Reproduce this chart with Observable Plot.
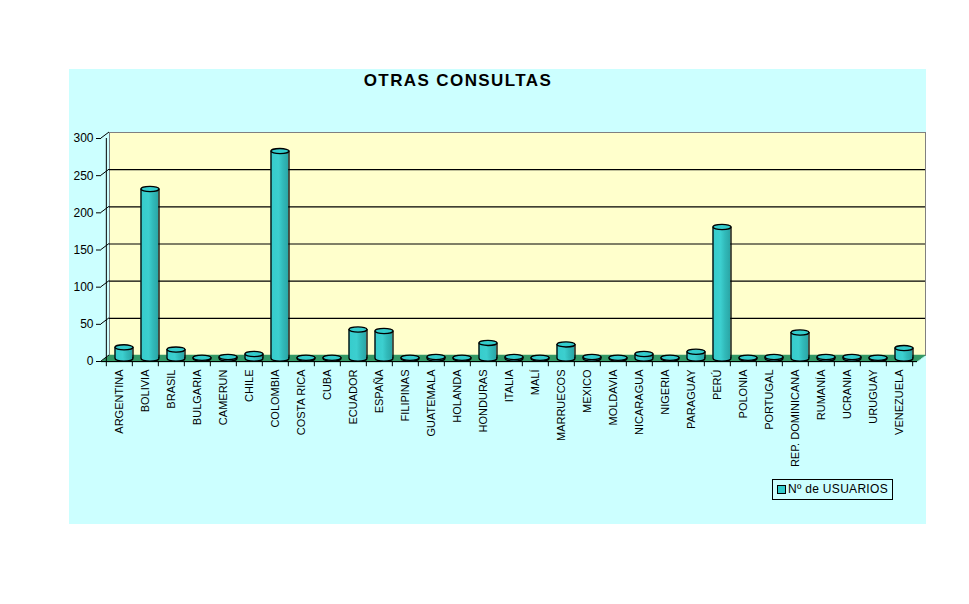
<!DOCTYPE html>
<html>
<head>
<meta charset="utf-8">
<script src="https://cdn.jsdelivr.net/npm/d3@7"></script>
<script src="https://cdn.jsdelivr.net/npm/@observablehq/plot@0.6"></script>
<style>
  html, body { margin: 0; padding: 0; background: #ffffff; }
  #page { position: relative; width: 969px; height: 604px; overflow: hidden; background: #ffffff; font-family: "Liberation Sans", Arial, sans-serif; }
  #panel { position: absolute; left: 69px; top: 69px; width: 857px; height: 455px; background: #CCFFFF; }
  #title { position: absolute; left: 258px; width: 400px; top: 70px; text-align: center; font-weight: bold; font-size: 17px; letter-spacing: 1.4px; line-height: 22px; color: #000; }
  #chart { position: absolute; left: 0; top: 0; }
  #legend { position: absolute; left: 772px; top: 479px; width: 119px; height: 19px; border: 1px solid #000; background: #CCFFFF; font-size: 12px; line-height: 19px; color: #000; }
  #legend .sw { position: absolute; left: 4px; top: 5px; width: 7px; height: 7px; background: #33CCCC; border: 1px solid #000; }
  #legend .lb { position: absolute; left: 15px; top: 0; white-space: nowrap; letter-spacing: 0.3px; }
</style>
</head>
<body>
<div id="page">
  <div id="panel"></div>
  <div id="title">OTRAS CONSULTAS</div>
  <div id="chart"></div>
  <div id="legend"><div class="sw"></div><div class="lb">Nº de USUARIOS</div></div>
</div>
<script>
const countries = ["ARGENTINA","BOLIVIA","BRASIL","BULGARIA","CAMERUN","CHILE","COLOMBIA","COSTA RICA","CUBA","ECUADOR","ESPAÑA","FILIPINAS","GUATEMALA","HOLANDA","HONDURAS","ITALIA","MALÍ","MARRUECOS","MEXICO","MOLDAVIA","NICARAGUA","NIGERIA","PARAGUAY","PERÚ","POLONIA","PORTUGAL","REP. DOMINICANA","RUMANÍA","UCRANIA","URUGUAY","VENEZUELA"];
const usuarios = [15,228,12,1,2,6,279,1,1,39,37,1,2,1,21,2,1,19,2,1,6,1,9,177,1,2,35,2,2,1,14];
const yTicks = [0,50,100,150,200,250,300];
const gridValues = [50,100,150,200,250];

const data = countries.map((c, i) => ({country: c, value: usuarios[i]}));

const W = 969, H = 604, mL = 101, mR = 52, mT = 138, mB = 243;
const bw = (W - mL - mR) / countries.length;
const barW = 18;
const inset = (bw - barW) / 2;
const bdx = 4.5, bdy = -3;   // bar depth offset
const wdx = 8, wdy = -6;     // back wall offset

const ellipse = {
  draw(ctx) {
    const rx = barW / 2, ry = 2.6, k = 0.5523;
    ctx.moveTo(rx, 0);
    ctx.bezierCurveTo(rx, ry * k, rx * k, ry, 0, ry);
    ctx.bezierCurveTo(-rx * k, ry, -rx, ry * k, -rx, 0);
    ctx.bezierCurveTo(-rx, -ry * k, -rx * k, -ry, 0, -ry);
    ctx.bezierCurveTo(rx * k, -ry, rx, -ry * k, rx, 0);
    ctx.closePath();
  }
};

const floorRows = d3.range(0, 7).map(i => Plot.ruleY([0], {stroke: "#339966", strokeWidth: 1.6, dx: i * wdx / 6, dy: i * wdy / 6}));

const chart = Plot.plot({
  width: W, height: H,
  marginLeft: mL, marginRight: mR, marginTop: mT, marginBottom: mB,
  style: "background: transparent; overflow: visible; font-family: 'Liberation Sans', Arial, sans-serif; color: #000;",
  x: {domain: countries, padding: 0, label: null},
  y: {domain: [0, 300], label: null},
  marks: [
    // back wall
    Plot.frame({fill: "#FFFFCC", stroke: "#808080", dx: wdx, dy: wdy}),
    Plot.ruleY(gridValues, {stroke: "#000", strokeWidth: 1.2, dx: wdx, dy: wdy}),
    // floor
    ...floorRows,
    // front axes
    Plot.ruleY([0], {stroke: "#000"}),
    Plot.ruleX([countries[0]], {x: d => d, y1: 0, y2: 300, dx: -bw / 2, stroke: "#000"}),
    // category ticks at band boundaries
    Plot.ruleX(countries, {x: d => d, y1: 0, y2: -7, dx: -bw / 2, stroke: "#000"}),
    Plot.ruleX([countries[countries.length - 1]], {x: d => d, y1: 0, y2: -7, dx: bw / 2, stroke: "#000"}),
    Plot.axisY({ticks: yTicks, tickSize: 5, tickPadding: 3, fontSize: 12, label: null}),
    Plot.axisX({tickSize: 0, tickPadding: 8, tickRotate: -90, fontSize: 11, label: null}),
    // cylinders
    Plot.dot(data, {x: "country", y: 0, dx: bdx, dy: bdy, r: 3, symbol: ellipse, fill: "url(#cyl)", stroke: "#000", strokeWidth: 1.3}),
    Plot.barY(data, {x: "country", y: "value", fill: "url(#cyl)", insetLeft: inset, insetRight: inset, dx: bdx, dy: bdy}),
    Plot.ruleX(data, {x: "country", y1: 0, y2: "value", dx: bdx - barW / 2, dy: bdy, stroke: "#000", strokeWidth: 1.3}),
    Plot.ruleX(data, {x: "country", y1: 0, y2: "value", dx: bdx + barW / 2, dy: bdy, stroke: "#000", strokeWidth: 1.3}),
    Plot.dot(data, {x: "country", y: "value", dx: bdx, dy: bdy, r: 3, symbol: ellipse, fill: "#33CCCC", stroke: "#000", strokeWidth: 1.3})
  ]
});

// gradient for cylinder bodies
const svg = d3.select(chart);
const defs = svg.insert("defs", ":first-child");
const g = defs.append("linearGradient").attr("id", "cyl").attr("x1", "0").attr("x2", "1").attr("y1", "0").attr("y2", "0");
g.append("stop").attr("offset", "0").attr("stop-color", "#36CCCC");
g.append("stop").attr("offset", "0.45").attr("stop-color", "#3CCFCF");
g.append("stop").attr("offset", "0.7").attr("stop-color", "#31B9B9");
g.append("stop").attr("offset", "1").attr("stop-color", "#2AA5A5");

// diagonal connectors from front y-axis ticks to the back wall
const ys = chart.scale("y");
const x0 = mL;
const conn = svg.append("g").attr("stroke", "#000").attr("stroke-width", 1);
yTicks.forEach(t => {
  const yy = ys.apply(t);
  conn.append("line").attr("x1", x0).attr("y1", yy).attr("x2", x0 + wdx).attr("y2", yy + wdy);
});

document.getElementById("chart").appendChild(chart);
</script>
</body>
</html>
